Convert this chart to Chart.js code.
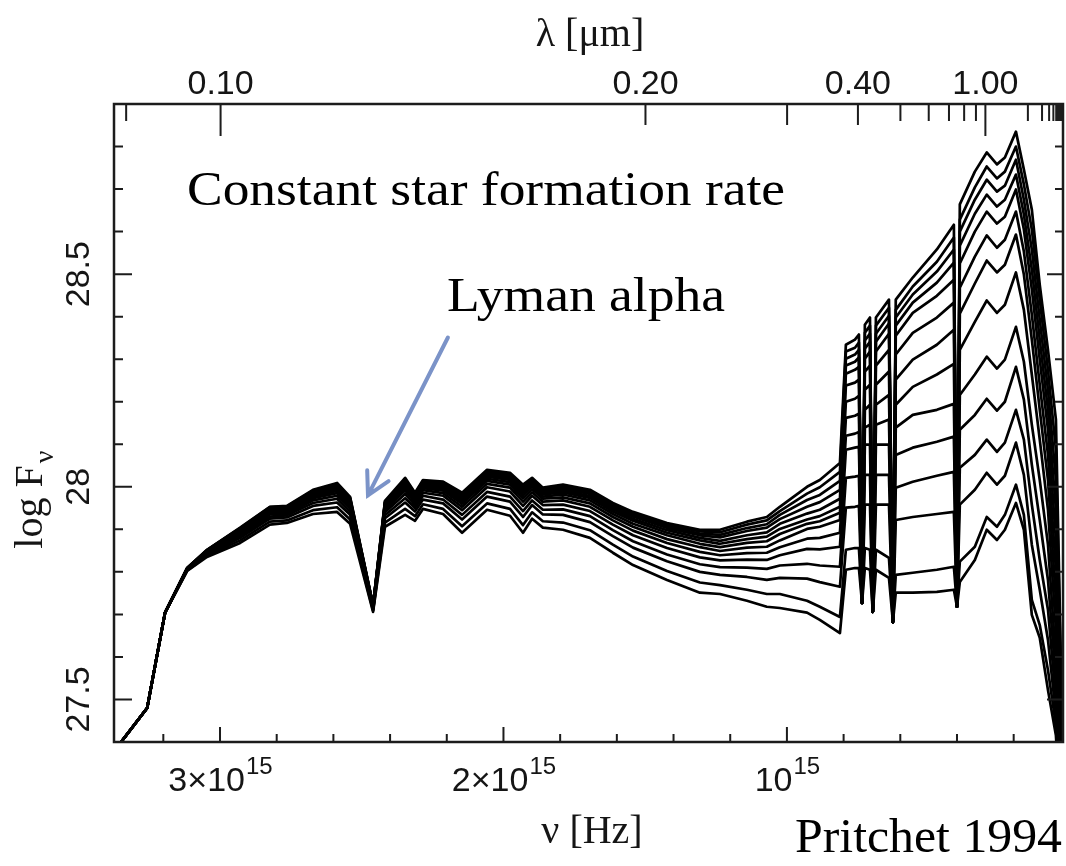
<!DOCTYPE html>
<html>
<head>
<meta charset="utf-8">
<title>Constant star formation rate SEDs</title>
<script src="https://cdn.jsdelivr.net/npm/chart.js@4.4.1/dist/chart.umd.min.js"></script>
<style>
  html, body { margin: 0; background: #ffffff; }
  canvas { display: block; }
</style>
</head>
<body>
<canvas id="sed" width="1066" height="866"></canvas>
<script>
// frequency grid in units of 1e15 Hz (x axis runs high -> low)
const nu = [
  3.374, 3.349, 3.257, 3.194, 3.116, 3.046, 2.929, 2.824, 2.764, 2.672,
  2.587, 2.541, 2.460, 2.418, 2.347, 2.312, 2.284, 2.213, 2.146, 2.058,
  1.977, 1.931, 1.899, 1.861, 1.790, 1.695, 1.614, 1.543, 1.423, 1.307,
  1.236, 1.141, 1.071, 1.025, 0.929, 0.884, 0.813,
  0.792, 0.760, 0.746, 0.735, 0.725, 0.707, 0.697, 0.686, 0.640, 0.626,
  0.616, 0.556, 0.471, 0.411, 0.400, 0.390, 0.337, 0.295, 0.259, 0.231,
  0.192, 0.164, 0.136, 0.108, 0.079, 0.051, 0.016
];

// log F_nu for each model, top (oldest) to bottom (youngest)
const sed01 = [
  27.370, 27.400, 27.480, 27.704, 27.809, 27.852, 27.904, 27.953, 27.955, 27.993,
  28.009, 27.976, 27.722, 27.967, 28.021, 27.986, 28.016, 28.012, 27.986, 28.040,
  28.033, 28.005, 28.021, 27.998, 28.005, 27.993, 27.962, 27.941, 27.915, 27.899,
  27.899, 27.918, 27.929, 27.953, 28.000, 28.016, 28.056,
  28.334, 28.346, 28.358, 27.727, 28.381, 28.398, 27.706, 28.398, 28.440, 27.682,
  28.440, 28.492, 28.558, 28.616, 27.718, 28.664, 28.741, 28.786, 28.758, 28.774,
  28.835, 28.746, 28.652, 28.475, 28.322, 28.158, 27.028
];
const sed02 = [
  27.370, 27.400, 27.480, 27.704, 27.809, 27.851, 27.903, 27.952, 27.954, 27.991,
  28.007, 27.974, 27.722, 27.965, 28.018, 27.984, 28.014, 28.010, 27.983, 28.037,
  28.030, 28.002, 28.018, 27.995, 28.002, 27.990, 27.958, 27.937, 27.911, 27.895,
  27.893, 27.911, 27.921, 27.943, 27.984, 27.999, 28.035,
  28.318, 28.327, 28.339, 27.727, 28.362, 28.379, 27.706, 28.379, 28.421, 27.682,
  28.416, 28.471, 28.529, 28.586, 27.718, 28.628, 28.704, 28.753, 28.725, 28.741,
  28.800, 28.711, 28.605, 28.440, 28.275, 28.087, 27.028
];
const sed03 = [
  27.370, 27.400, 27.480, 27.704, 27.809, 27.851, 27.902, 27.950, 27.953, 27.990,
  28.005, 27.972, 27.721, 27.963, 28.016, 27.982, 28.012, 28.007, 27.980, 28.034,
  28.027, 27.998, 28.015, 27.992, 27.999, 27.986, 27.955, 27.933, 27.907, 27.890,
  27.887, 27.903, 27.912, 27.934, 27.969, 27.981, 28.014,
  28.301, 28.311, 28.322, 27.727, 28.344, 28.360, 27.706, 28.360, 28.402, 27.682,
  28.398, 28.452, 28.506, 28.558, 27.718, 28.600, 28.675, 28.722, 28.694, 28.708,
  28.769, 28.675, 28.558, 28.393, 28.228, 28.016, 27.028
];
const sed04 = [
  27.370, 27.400, 27.480, 27.704, 27.808, 27.850, 27.901, 27.949, 27.951, 27.988,
  28.003, 27.970, 27.721, 27.962, 28.013, 27.980, 28.010, 28.005, 27.978, 28.032,
  28.024, 27.995, 28.012, 27.990, 27.995, 27.983, 27.951, 27.930, 27.903, 27.886,
  27.881, 27.896, 27.904, 27.924, 27.953, 27.964, 27.993,
  28.285, 28.294, 28.304, 27.727, 28.325, 28.341, 27.706, 28.341, 28.384, 27.682,
  28.379, 28.433, 28.480, 28.527, 27.718, 28.567, 28.642, 28.687, 28.659, 28.675,
  28.734, 28.640, 28.511, 28.346, 28.181, 27.946, 27.028
];
const sed05 = [
  27.370, 27.400, 27.480, 27.704, 27.808, 27.850, 27.899, 27.948, 27.950, 27.986,
  28.000, 27.968, 27.720, 27.959, 28.010, 27.977, 28.007, 28.002, 27.974, 28.028,
  28.020, 27.990, 28.009, 27.986, 27.991, 27.978, 27.947, 27.925, 27.898, 27.880,
  27.873, 27.886, 27.893, 27.913, 27.937, 27.946, 27.972,
  28.266, 28.275, 28.282, 27.727, 28.301, 28.318, 27.706, 28.318, 28.360, 27.682,
  28.355, 28.409, 28.449, 28.487, 27.718, 28.525, 28.600, 28.647, 28.619, 28.635,
  28.699, 28.605, 28.464, 28.299, 28.134, 27.875, 27.028
];
const sed06 = [
  27.370, 27.400, 27.480, 27.704, 27.808, 27.849, 27.898, 27.946, 27.948, 27.983,
  27.997, 27.965, 27.719, 27.957, 28.006, 27.975, 28.004, 27.999, 27.970, 28.024,
  28.016, 27.986, 28.005, 27.982, 27.987, 27.974, 27.942, 27.920, 27.892, 27.874,
  27.866, 27.877, 27.883, 27.901, 27.923, 27.931, 27.953,
  28.238, 28.245, 28.252, 27.727, 28.271, 28.285, 27.706, 28.285, 28.322, 27.682,
  28.311, 28.362, 28.398, 28.433, 27.718, 28.468, 28.541, 28.591, 28.562, 28.581,
  28.647, 28.553, 28.405, 28.240, 28.075, 27.805, 27.028
];
const sed07 = [
  27.370, 27.400, 27.480, 27.704, 27.807, 27.848, 27.896, 27.944, 27.946, 27.980,
  27.994, 27.962, 27.718, 27.954, 28.002, 27.971, 28.001, 27.995, 27.965, 28.019,
  28.011, 27.980, 28.000, 27.977, 27.982, 27.968, 27.936, 27.913, 27.886, 27.866,
  27.858, 27.868, 27.872, 27.889, 27.913, 27.919, 27.939,
  28.200, 28.207, 28.214, 27.727, 28.228, 28.240, 27.706, 28.240, 28.271, 27.682,
  28.252, 28.299, 28.334, 28.369, 27.718, 28.407, 28.478, 28.532, 28.504, 28.522,
  28.593, 28.499, 28.346, 28.181, 28.016, 27.734, 27.028
];
const sed08 = [
  27.370, 27.400, 27.480, 27.704, 27.807, 27.847, 27.894, 27.941, 27.944, 27.977,
  27.990, 27.958, 27.718, 27.950, 27.997, 27.968, 27.997, 27.991, 27.960, 28.014,
  28.005, 27.973, 27.994, 27.972, 27.975, 27.961, 27.929, 27.906, 27.877, 27.858,
  27.849, 27.857, 27.859, 27.874, 27.901, 27.906, 27.922,
  28.162, 28.167, 28.172, 27.727, 28.181, 28.193, 27.706, 28.193, 28.216, 27.682,
  28.193, 28.235, 28.264, 28.289, 27.718, 28.322, 28.388, 28.438, 28.409, 28.428,
  28.504, 28.416, 28.264, 28.111, 27.946, 27.664, 27.028
];
const sed09 = [
  27.370, 27.400, 27.480, 27.704, 27.807, 27.846, 27.891, 27.938, 27.941, 27.973,
  27.985, 27.954, 27.716, 27.946, 27.991, 27.963, 27.992, 27.985, 27.953, 28.007,
  27.998, 27.965, 27.987, 27.965, 27.968, 27.953, 27.921, 27.897, 27.868, 27.847,
  27.839, 27.844, 27.845, 27.858, 27.878, 27.880, 27.892,
  28.120, 28.125, 28.129, 27.727, 28.139, 28.146, 27.706, 28.146, 28.158, 27.682,
  28.139, 28.169, 28.181, 28.195, 27.718, 28.216, 28.264, 28.306, 28.278, 28.299,
  28.376, 28.294, 28.146, 28.016, 27.864, 27.593, 27.028
];
const sed10 = [
  27.370, 27.400, 27.480, 27.704, 27.806, 27.845, 27.888, 27.935, 27.937, 27.968,
  27.979, 27.948, 27.715, 27.940, 27.983, 27.957, 27.986, 27.979, 27.945, 27.999,
  27.989, 27.955, 27.979, 27.957, 27.958, 27.943, 27.911, 27.886, 27.856, 27.834,
  27.827, 27.829, 27.828, 27.839, 27.854, 27.853, 27.859,
  28.087, 28.092, 28.094, 27.727, 28.099, 28.099, 27.706, 28.099, 28.099, 27.682,
  28.075, 28.092, 28.106, 28.118, 27.718, 28.134, 28.169, 28.207, 28.179, 28.200,
  28.282, 28.205, 28.052, 27.922, 27.781, 27.546, 27.028
];
const sed11 = [
  27.370, 27.400, 27.480, 27.704, 27.805, 27.843, 27.884, 27.930, 27.933, 27.962,
  27.972, 27.941, 27.713, 27.933, 27.973, 27.950, 27.979, 27.970, 27.934, 27.988,
  27.977, 27.943, 27.968, 27.946, 27.947, 27.931, 27.898, 27.872, 27.841, 27.818,
  27.811, 27.810, 27.807, 27.815, 27.819, 27.815, 27.812,
  28.021, 28.024, 28.026, 27.727, 28.028, 28.028, 27.706, 28.028, 28.028, 27.682,
  27.998, 28.012, 28.026, 28.035, 27.718, 28.045, 28.075, 28.111, 28.082, 28.104,
  28.181, 28.111, 27.958, 27.828, 27.711, 27.499, 27.028
];
const sed12 = [
  27.370, 27.400, 27.480, 27.704, 27.804, 27.841, 27.880, 27.925, 27.928, 27.955,
  27.963, 27.934, 27.711, 27.926, 27.963, 27.942, 27.970, 27.961, 27.923, 27.977,
  27.965, 27.929, 27.957, 27.935, 27.934, 27.917, 27.884, 27.857, 27.825, 27.800,
  27.793, 27.788, 27.781, 27.786, 27.784, 27.776, 27.765,
  27.951, 27.953, 27.955, 27.727, 27.958, 27.958, 27.706, 27.958, 27.958, 27.682,
  27.922, 27.929, 27.936, 27.941, 27.718, 27.958, 27.993, 28.033, 28.005, 28.026,
  28.104, 28.028, 27.864, 27.758, 27.640, 27.464, 27.028
];
const sed13 = [
  27.370, 27.400, 27.480, 27.704, 27.803, 27.838, 27.874, 27.918, 27.921, 27.945,
  27.952, 27.923, 27.709, 27.916, 27.948, 27.931, 27.959, 27.948, 27.907, 27.961,
  27.948, 27.910, 27.940, 27.919, 27.916, 27.898, 27.864, 27.836, 27.802, 27.775,
  27.769, 27.758, 27.748, 27.748, 27.732, 27.718, 27.694,
  27.852, 27.856, 27.856, 27.727, 27.856, 27.852, 27.706, 27.852, 27.833, 27.682,
  27.793, 27.798, 27.805, 27.812, 27.718, 27.824, 27.859, 27.929, 27.906, 27.934,
  28.005, 27.934, 27.734, 27.675, 27.569, 27.440, 27.028
];
const sed14 = [
  27.370, 27.400, 27.480, 27.704, 27.802, 27.835, 27.868, 27.911, 27.915, 27.936,
  27.941, 27.913, 27.706, 27.906, 27.934, 27.920, 27.948, 27.936, 27.892, 27.946,
  27.932, 27.892, 27.925, 27.904, 27.899, 27.880, 27.845, 27.816, 27.781, 27.751,
  27.748, 27.732, 27.718, 27.715, 27.704, 27.687, 27.656,
  27.805, 27.809, 27.809, 27.727, 27.809, 27.805, 27.706, 27.805, 27.786, 27.682,
  27.751, 27.751, 27.753, 27.758, 27.718, 27.776, 27.828, 27.899, 27.875, 27.899,
  27.962, 27.899, 27.699, 27.645, 27.522, 27.416, 27.028
];

// axis ticks
const nuTicks = [3.2, 3.0, 2.8, 2.6, 2.4, 2.2, 2.0, 1.8, 1.6, 1.4, 1.2, 1.0, 0.8, 0.6, 0.4, 0.2];
const nuLabelled = [3, 2, 1];
const nuLabelText = ['3\u00d710', '2\u00d710', '10'];
const lambdaTicks = [0.09, 0.1, 0.2, 0.3, 0.4, 0.5, 0.6, 0.7, 0.8, 0.9, 1, 2, 3, 4, 5, 6, 7, 8, 9, 10];
const lambdaLabelled = [0.1, 0.2, 0.4, 1.0];
const logFTicks = [27.5, 27.6, 27.7, 27.8, 27.9, 28.0, 28.1, 28.2, 28.3, 28.4, 28.5, 28.6, 28.7, 28.8];
const logFLabelled = [27.5, 28, 28.5];

const C_UM = 0.2998; // c in micron * 1e15 Hz, lambda -> nu

const series = [sed01, sed02, sed03, sed04, sed05, sed06, sed07,
                sed08, sed09, sed10, sed11, sed12, sed13, sed14];

function drawStretched(ctx, text, x, y, width) {
  const w = ctx.measureText(text).width;
  ctx.save();
  ctx.translate(x, y);
  ctx.scale(width / w, 1);
  ctx.fillText(text, 0, 0);
  ctx.restore();
}

const frameAndText = {
  id: 'frameAndText',
  afterDraw(chart) {
    const { ctx, chartArea: a, scales } = chart;
    const xs = scales.x, xt = scales.xTop, ys = scales.y;
    ctx.save();

    // box
    ctx.strokeStyle = '#1c1c1c';
    ctx.lineWidth = 2.5;
    ctx.strokeRect(a.left, a.top, a.right - a.left, a.bottom - a.top);

    // inward tick marks
    ctx.lineWidth = 2;
    ctx.beginPath();
    xs.ticks.forEach(t => {
      const px = xs.getPixelForValue(t.value);
      const len = nuLabelled.includes(t.value) ? 15 : 8;
      ctx.moveTo(px, a.bottom);
      ctx.lineTo(px, a.bottom - len);
    });
    xt.ticks.forEach((t, i) => {
      const lam = lambdaTicks[i];
      const px = xt.getPixelForValue(t.value);
      let len = 17;
      if (lam === 0.1 || lam === 1) len = 32;
      else if (lam >= 0.2 && lam <= 0.4) len = 21;
      ctx.moveTo(px, a.top);
      ctx.lineTo(px, a.top + len);
    });
    ys.ticks.forEach(t => {
      const py = ys.getPixelForValue(t.value);
      const major = logFLabelled.includes(t.value);
      ctx.moveTo(a.left, py);
      ctx.lineTo(a.left + (major ? 18 : 9), py);
      ctx.moveTo(a.right, py);
      ctx.lineTo(a.right - (major ? 16 : 8), py);
    });
    ctx.stroke();

    ctx.fillStyle = '#151515';

    // wavelength labels along the top
    ctx.font = '34px "Liberation Sans"';
    ctx.textAlign = 'center';
    ctx.textBaseline = 'alphabetic';
    lambdaLabelled.forEach(lam => {
      ctx.fillText(lam.toFixed(2), xt.getPixelForValue(C_UM / lam), 94);
    });

    // frequency labels along the bottom, with raised exponent
    nuLabelled.forEach((v, i) => {
      const px = xs.getPixelForValue(v);
      ctx.font = '34px "Liberation Sans"';
      const wMain = ctx.measureText(nuLabelText[i]).width;
      ctx.font = '24px "Liberation Sans"';
      const wSup = ctx.measureText('15').width;
      const x0 = px - (wMain + wSup) / 2;
      ctx.textAlign = 'left';
      ctx.font = '34px "Liberation Sans"';
      ctx.fillText(nuLabelText[i], x0, 791);
      ctx.font = '24px "Liberation Sans"';
      ctx.fillText('15', x0 + wMain + 1, 774);
    });

    // log F labels, rotated
    ctx.font = '34px "Liberation Sans"';
    ctx.textAlign = 'center';
    ctx.textBaseline = 'middle';
    logFLabelled.forEach(v => {
      ctx.save();
      ctx.translate(80, ys.getPixelForValue(v));
      ctx.rotate(-Math.PI / 2);
      ctx.fillText(String(v), 0, 0);
      ctx.restore();
    });

    // axis titles
    ctx.textBaseline = 'alphabetic';
    ctx.font = '40px "Liberation Serif"';
    ctx.fillText('\u03bb [\u03bcm]', 590, 46);
    ctx.fillText('\u03bd [Hz]', 592, 843);

    ctx.save();
    ctx.translate(42, 497);
    ctx.rotate(-Math.PI / 2);
    ctx.textAlign = 'left';
    ctx.font = '40px "Liberation Serif"';
    const wLog = ctx.measureText('log F').width;
    ctx.fillText('log F', -wLog / 2 - 10, 0);
    ctx.font = '28px "Liberation Serif"';
    ctx.fillText('\u03bd', wLog / 2 - 8, 11);
    ctx.restore();

    // annotations
    ctx.textAlign = 'left';
    ctx.fillStyle = '#000000';
    ctx.font = '48px "Liberation Serif"';
    drawStretched(ctx, 'Constant star formation rate', 187, 205, 598);
    drawStretched(ctx, 'Lyman alpha', 447, 311, 278);
    drawStretched(ctx, 'Pritchet 1994', 795, 852, 267);

    // arrow onto the Lyman alpha trough
    const tipX = xs.getPixelForValue(2.478), tipY = ys.getPixelForValue(27.98);
    const tailX = xs.getPixelForValue(2.196), tailY = ys.getPixelForValue(28.351);
    const ang = Math.atan2(tailY - tipY, tailX - tipX);
    ctx.strokeStyle = '#7b93c8';
    ctx.lineWidth = 4;
    ctx.lineCap = 'round';
    ctx.beginPath();
    ctx.moveTo(tailX, tailY);
    ctx.lineTo(tipX, tipY);
    ctx.moveTo(tipX + 25 * Math.cos(ang - 0.5), tipY + 25 * Math.sin(ang - 0.5));
    ctx.lineTo(tipX, tipY);
    ctx.lineTo(tipX + 25 * Math.cos(ang + 0.5), tipY + 25 * Math.sin(ang + 0.5));
    ctx.stroke();

    ctx.restore();
  }
};

const hidden = {
  grid: { display: false },
  border: { display: false },
  ticks: { display: false }
};

new Chart(document.getElementById('sed'), {
  type: 'line',
  data: {
    datasets: series.map((ys, k) => ({
      label: 'model ' + (k + 1),
      data: nu.map((x, i) => ({ x: x, y: ys[i] })),
      borderColor: '#000000',
      borderWidth: 2.7,
      borderJoinStyle: 'round',
      pointRadius: 0,
      fill: false,
      tension: 0
    }))
  },
  options: {
    responsive: false,
    animation: false,
    events: [],
    layout: { padding: 0 },
    plugins: { legend: { display: false }, tooltip: { enabled: false } },
    scales: {
      x: {
        ...hidden, type: 'linear', position: 'bottom', reverse: true,
        min: 0.026, max: 3.374,
        afterBuildTicks: s => { s.ticks = nuTicks.map(value => ({ value })); },
        afterFit: s => { s.height = 124; }
      },
      xTop: {
        ...hidden, axis: 'x', type: 'linear', position: 'top', reverse: true,
        min: 0.026, max: 3.374,
        afterBuildTicks: s => { s.ticks = lambdaTicks.map(l => ({ value: C_UM / l })); },
        afterFit: s => { s.height = 104; }
      },
      y: {
        ...hidden, type: 'linear', position: 'left', min: 27.4, max: 28.9,
        afterBuildTicks: s => { s.ticks = logFTicks.map(value => ({ value })); },
        afterFit: s => { s.width = 114; }
      },
      yRight: {
        ...hidden, axis: 'y', type: 'linear', position: 'right', min: 27.4, max: 28.9,
        afterFit: s => { s.width = 3; }
      }
    }
  },
  plugins: [frameAndText]
});
</script>
</body>
</html>
